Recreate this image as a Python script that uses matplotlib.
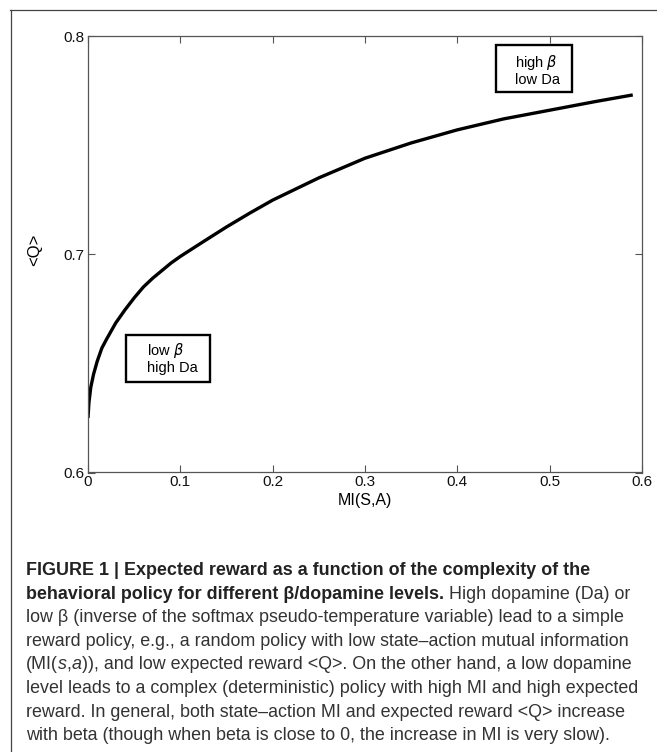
import matplotlib
matplotlib.use("Agg")
import matplotlib.pyplot as plt
from matplotlib.lines import Line2D
from matplotlib.patches import Rectangle
from matplotlib import font_manager

# ---- data ----
mi_values = [0.0, 0.001, 0.003, 0.006, 0.01, 0.015, 0.02, 0.03, 0.04, 0.05,
             0.06, 0.07, 0.08, 0.09, 0.1, 0.125, 0.15, 0.175, 0.2, 0.25, 0.3, 0.35,
             0.4, 0.45, 0.5, 0.55, 0.59]
q_values = [0.625, 0.632, 0.639, 0.645, 0.651, 0.657, 0.661, 0.6685, 0.6745, 0.680,
            0.685, 0.689, 0.6925, 0.696, 0.699, 0.7058, 0.7125, 0.7188, 0.7248, 0.735,
            0.744, 0.751, 0.757, 0.762, 0.766, 0.770, 0.773]
x_ticks = [0, 0.1, 0.2, 0.3, 0.4, 0.5, 0.6]
x_tick_labels = ["0", "0.1", "0.2", "0.3", "0.4", "0.5", "0.6"]
y_ticks = [0.6, 0.7, 0.8]
y_tick_labels = ["0.6", "0.7", "0.8"]
x_label = "MI(S,A)"
y_label = "<Q>"
box_high_lines = ["high $\\beta$", "low Da"]
box_low_lines = ["low $\\beta$", "high Da"]
# caption: each line is a list of (text, weight, style)
caption_lines = [
    [("FIGURE 1 | Expected reward as a function of the complexity of the", "bold", "normal")],
    [("behavioral policy for different \u03b2/dopamine levels.", "bold", "normal"),
     (" High dopamine (Da) or", "normal", "normal")],
    [("low \u03b2 (inverse of the softmax pseudo-temperature variable) lead to a simple", "normal", "normal")],
    [("reward policy, e.g., a random policy with low state\u2013action mutual information", "normal", "normal")],
    [("(MI(", "normal", "normal"), ("s", "normal", "italic"), (",", "normal", "normal"),
     ("a", "normal", "italic"),
     (")), and low expected reward <Q>. On the other hand, a low dopamine", "normal", "normal")],
    [("level leads to a complex (deterministic) policy with high MI and high expected", "normal", "normal")],
    [("reward. In general, both state\u2013action MI and expected reward <Q> increase", "normal", "normal")],
    [("with beta (though when beta is close to 0, the increase in MI is very slow).", "normal", "normal")],
]

W, H = 657, 752
fig = plt.figure(figsize=(W / 100, H / 100), dpi=100)

def fx(px):
    return px / W

def fy(py):
    return 1 - py / H

font = "Liberation Sans"
cap_font = font
try:
    font_manager.findfont("Liberation Sans Narrow", fallback_to_default=False)
    cap_font = "Liberation Sans Narrow"
except Exception:
    cap_font = font

# outer frame (top and left edges visible)
fig.add_artist(Line2D([fx(10), 1.0], [fy(10), fy(10)], color="#444444", lw=0.9))
fig.add_artist(Line2D([fx(10.5), fx(10.5)], [fy(10), 0.0], color="#444444", lw=0.9))

left, right, top, bottom = 88, 642, 36, 472.5
ax = fig.add_axes([fx(left), fy(bottom), fx(right - left), (bottom - top) / H])
ax.plot(mi_values, q_values, color="black", lw=2.4, solid_capstyle="butt",
        solid_joinstyle="round")
ax.set_xlim(0, 0.6)
ax.set_ylim(0.6, 0.8)
ax.set_xticks(x_ticks)
ax.set_xticklabels(x_tick_labels, fontfamily=font, fontsize=11)
ax.set_yticks(y_ticks)
ax.set_yticklabels(y_tick_labels, fontfamily=font, fontsize=11)
ax.tick_params(direction="in", length=5, width=0.8, color="#555555", top=True, right=True,
               labelcolor="#111111")
ax.tick_params(axis="x", pad=1.5)
ax.tick_params(axis="y", pad=2.8)
for s in ax.spines.values():
    s.set_color("#555555")
    s.set_linewidth(0.9)
ax.set_xlabel(x_label, fontfamily=font, fontsize=11.5, labelpad=3.5)
ax.text((35 - left) / (right - left), (bottom - 250) / (bottom - top), y_label,
        transform=ax.transAxes, rotation=90, ha="center", va="center",
        fontfamily=font, fontsize=12)

def dx(px):
    return (px - left) / (right - left) * 0.6

def dy(py):
    return 0.6 + (bottom - py) / (bottom - top) * 0.2

# annotation boxes
def add_box(x0, x1, y0, y1, lines, tx, ty_list):
    ax.add_patch(Rectangle((dx(x0), dy(y1)), dx(x1) - dx(x0), dy(y0) - dy(y1),
                           fill=True, fc="white", ec="black", lw=1.7, zorder=3))
    for line, ty in zip(lines, ty_list):
        ax.text(dx(tx), dy(ty), line, fontfamily=font, fontsize=10.5,
                ha="left", va="center", zorder=4)

add_box(496, 572, 45, 92, box_high_lines, 515, [62, 80])
add_box(126, 210, 335, 382, box_low_lines, 147, [350, 368])

# caption
renderer = fig.canvas.get_renderer()
cap_size = 12.85
x0 = 26
baseline0 = 575
spacing = 23.6
for i, segs in enumerate(caption_lines):
    yb = fy(baseline0 + i * spacing)
    x = fx(x0)
    for text, weight, style in segs:
        t = fig.text(x, yb, text, fontfamily=cap_font, fontweight=weight,
                     fontstyle=style, fontsize=cap_size, ha="left", va="baseline",
                     color="#222222" if weight == "bold" else "#333333")
        bb = t.get_window_extent(renderer)
        x = bb.x1 / W

fig.savefig("out.png", dpi=100)
